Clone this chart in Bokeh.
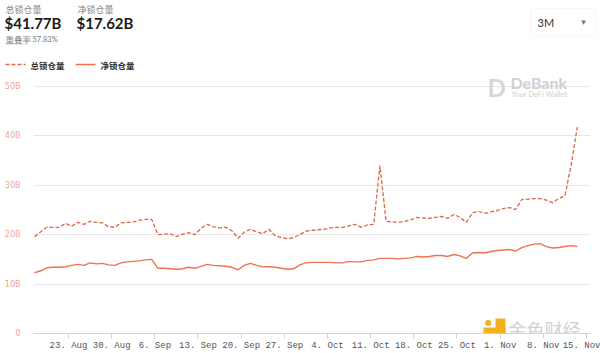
import pandas as pd
from bokeh.plotting import figure
from bokeh.layouts import column
from bokeh.models import (ColumnDataSource, Range1d, FixedTicker, DatetimeTickFormatter,
                          Label, BoxAnnotation)
from bokeh.embed import file_html
from bokeh.resources import INLINE

# ---- data (values in billions USD, one per day) ----
start_date = "2021-08-17 12:00"
total_tvl = [19.6, 20.6, 21.5, 21.5, 21.5, 22.3, 21.7, 22.5, 22.1, 22.7,
             22.5, 22.4, 21.6, 21.5, 22.4, 22.5, 22.6, 22.9, 23.1, 23.1,
             20.0, 20.1, 20.2, 19.6, 20.1, 20.4, 20.0, 21.3, 22.1, 21.6,
             21.4, 21.5, 20.8, 19.3, 20.5, 21.1, 20.6, 20.2, 21.1, 19.8,
             19.4, 19.2, 19.4, 20.0, 20.7, 20.9, 21.0, 21.1, 21.4, 21.5,
             21.5, 21.8, 22.1, 21.5, 22.0, 22.1, 34.0, 22.7, 22.6, 22.5,
             22.7, 23.0, 23.5, 23.4, 23.3, 23.5, 23.7, 23.3, 24.1, 23.5,
             22.5, 24.4, 24.7, 24.3, 24.6, 24.9, 25.3, 25.5, 25.1, 27.1,
             27.2, 27.3, 27.3, 27.0, 26.5, 27.3, 27.9, 34.0, 41.77]
net_tvl = [12.3, 12.7, 13.3, 13.4, 13.4, 13.5, 13.8, 14.0, 13.8, 14.3,
           14.1, 14.2, 13.9, 13.8, 14.3, 14.5, 14.6, 14.7, 14.9, 15.0,
           13.2, 13.2, 13.1, 13.0, 13.1, 13.4, 13.2, 13.6, 14.0, 13.8,
           13.7, 13.6, 13.4, 12.9, 13.8, 14.2, 13.8, 13.5, 13.5, 13.4,
           13.2, 13.0, 13.1, 13.9, 14.3, 14.4, 14.4, 14.4, 14.4, 14.3,
           14.3, 14.6, 14.5, 14.5, 14.8, 14.9, 15.2, 15.2, 15.2, 15.1,
           15.2, 15.3, 15.6, 15.5, 15.6, 15.8, 15.8, 15.6, 16.0, 15.7,
           15.2, 16.3, 16.4, 16.3, 16.6, 16.8, 16.9, 17.0, 16.7, 17.4,
           17.8, 18.1, 18.2, 17.6, 17.3, 17.4, 17.6, 17.8, 17.62]
y_ticks = [0, 10, 20, 30, 40, 50]
y_tick_labels = ["0", "10B", "20B", "30B", "40B", "50B"]
x_tick_dates = ["2021-08-23", "2021-08-30", "2021-09-06", "2021-09-13", "2021-09-20",
                "2021-09-27", "2021-10-04", "2021-10-11", "2021-10-18", "2021-10-25",
                "2021-11-01", "2021-11-08", "2021-11-15"]
series_names = ["总锁仓量", "净锁仓量"]
header_values = ["$41.77B", "$17.62B"]
overlap_label = "重叠率"
overlap_value = "57.83%"
range_choice = "3M"

CJK = "Noto Sans CJK SC"
TOTAL_COLOR = "#d8694c"
NET_COLOR = "#ef7252"
TOTAL_DASH = "4 2"
HEADER_H = 70

dates = pd.date_range(start_date, periods=len(total_tvl), freq="D")
src = ColumnDataSource(dict(date=dates, total=total_tvl, net=net_tvl))

# ================= header figure (pixel-like coordinates, y downwards) =================
h = figure(width=600, height=HEADER_H, output_backend="svg", toolbar_location=None,
           x_range=Range1d(0, 600), y_range=Range1d(HEADER_H, 0),
           x_axis_location=None, y_axis_location=None,
           min_border=0, min_border_left=0, min_border_right=0,
           min_border_top=0, min_border_bottom=0)
h.outline_line_color = None
h.grid.grid_line_color = None
h.background_fill_color = "white"
h.border_fill_color = "white"


def hlab(text, x, y, size, color, font=CJK, style="normal", baseline="top", align="left"):
    h.add_layout(Label(x=x, y=y, text=text, text_font=font, text_font_size=size,
                       text_color=color, text_font_style=style,
                       text_baseline=baseline, text_align=align))


hlab(series_names[0], 5, 2, "9px", "#8a8a8a")
hlab(header_values[0], 4, 13, "15px", "#1a1a1a", font="Lato", style="bold")
hlab(series_names[1], 77, 2, "9px", "#8a8a8a")
hlab(header_values[1], 76, 13, "15px", "#1a1a1a", font="Lato", style="bold")
hlab(overlap_label, 5, 32, "8.5px", "#8a8a8a")
hlab(overlap_value, 32, 34, "7.5px", "#777777", font="Lato")
h.line([5, 27], [43.5, 43.5], line_color="#aaaaaa", line_width=1, line_dash="1 1")

# dropdown
h.add_layout(BoxAnnotation(left=530, right=595, top=8, bottom=35,
                           fill_color="white", fill_alpha=1,
                           line_color="#e2e2e2", line_width=1, border_radius=3))
hlab(range_choice, 537, 21.5, "11px", "#333333", font="Lato", baseline="middle")
hlab("▾", 583, 21.5, "9px", "#777777", font="DejaVu Sans", baseline="middle", align="center")

# legend swatches (same styles as the series) and labels
h.line([5, 25], [64, 64], line_color=TOTAL_COLOR, line_width=1.3, line_dash=TOTAL_DASH)
hlab(series_names[0], 30, 64, "8.5px", "#333333", style="bold", baseline="middle")
h.line([75, 95], [64, 64], line_color=NET_COLOR, line_width=1.4)
hlab(series_names[1], 100, 64, "8.5px", "#333333", style="bold", baseline="middle")

# ================= main chart =================
x_start = pd.Timestamp("2021-08-17 07:48")
x_end = pd.Timestamp("2021-11-15 15:36")
y_top = 50 * (333 - HEADER_H) / (333 - 86)

p = figure(width=600, height=353 - HEADER_H, output_backend="svg", toolbar_location=None,
           x_axis_type="datetime",
           x_range=Range1d(x_start, x_end), y_range=Range1d(0, y_top),
           min_border_left=33, min_border_right=10, min_border_top=0,
           min_border_bottom=20)
p.outline_line_color = None
p.background_fill_color = "white"
p.border_fill_color = "white"

p.xgrid.grid_line_color = None
p.ygrid.grid_line_color = "#e6e6e6"
p.ygrid.grid_line_width = 1

p.yaxis.ticker = FixedTicker(ticks=y_ticks)
p.yaxis.major_label_overrides = {t: l for t, l in zip(y_ticks, y_tick_labels)}
p.yaxis.axis_line_color = None
p.yaxis.major_tick_line_color = None
p.yaxis.minor_tick_line_color = None
p.yaxis.major_label_text_color = "#eaa79a"
p.yaxis.major_label_text_font_size = "8px"
p.yaxis.major_label_text_font = "DejaVu Sans"
p.yaxis.major_label_standoff = 7

xt = [pd.Timestamp(d).value / 1e6 for d in x_tick_dates]
p.xaxis.ticker = FixedTicker(ticks=xt)
p.xaxis.formatter = DatetimeTickFormatter(days="%-d. %b", months="%-d. %b")
p.xaxis.axis_line_color = "#ccd6eb"
p.xaxis.major_tick_line_color = "#ccd6eb"
p.xaxis.major_tick_out = 5
p.xaxis.major_tick_in = 0
p.xaxis.minor_tick_line_color = None
p.xaxis.major_label_text_font = "Liberation Mono"
p.xaxis.major_label_text_font_size = "9px"
p.xaxis.major_label_text_color = "#555555"
p.xaxis.major_label_standoff = 2

p.line("date", "total", source=src, line_color=TOTAL_COLOR, line_width=1.3, line_dash=TOTAL_DASH)
p.line("date", "net", source=src, line_color=NET_COLOR, line_width=1.4)

# watermarks (frame-relative screen units: frame left=33 px, frame bottom=333 px)
FL, FB = 33, 333


def plab(text, cx, cy, size, color, font="Lato", style="normal", baseline="top", align="left"):
    p.add_layout(Label(x=cx - FL, y=FB - cy, x_units="screen", y_units="screen",
                       text=text, text_font=font, text_font_size=size,
                       text_color=color, text_font_style=style,
                       text_baseline=baseline, text_align=align))


plab("D", 487, 72, "24px", "#d6d6d6", style="bold")
plab("DeBank", 510, 72, "16px", "#d0d0d0", style="bold")
plab("Your DeFi Wallet", 511, 89, "7.5px", "#d0d0d0")

for (l, r, t, b) in [(495, 505, 318, 333), (483, 505, 327, 333)]:
    p.add_layout(BoxAnnotation(left=l - FL, right=r - FL, top=FB - t, bottom=FB - b,
                               left_units="screen", right_units="screen",
                               top_units="screen", bottom_units="screen",
                               fill_color="#f5b01e", fill_alpha=1, line_color=None))
plab("●", 488, 322, "8px", "#f5b01e", font="DejaVu Sans", baseline="middle", align="center")
plab("金色财经", 508, 315, "18px", "#d2d2d2", font=CJK)

open("out.html", "w").write(file_html(column(h, column(p), spacing=0), INLINE))
